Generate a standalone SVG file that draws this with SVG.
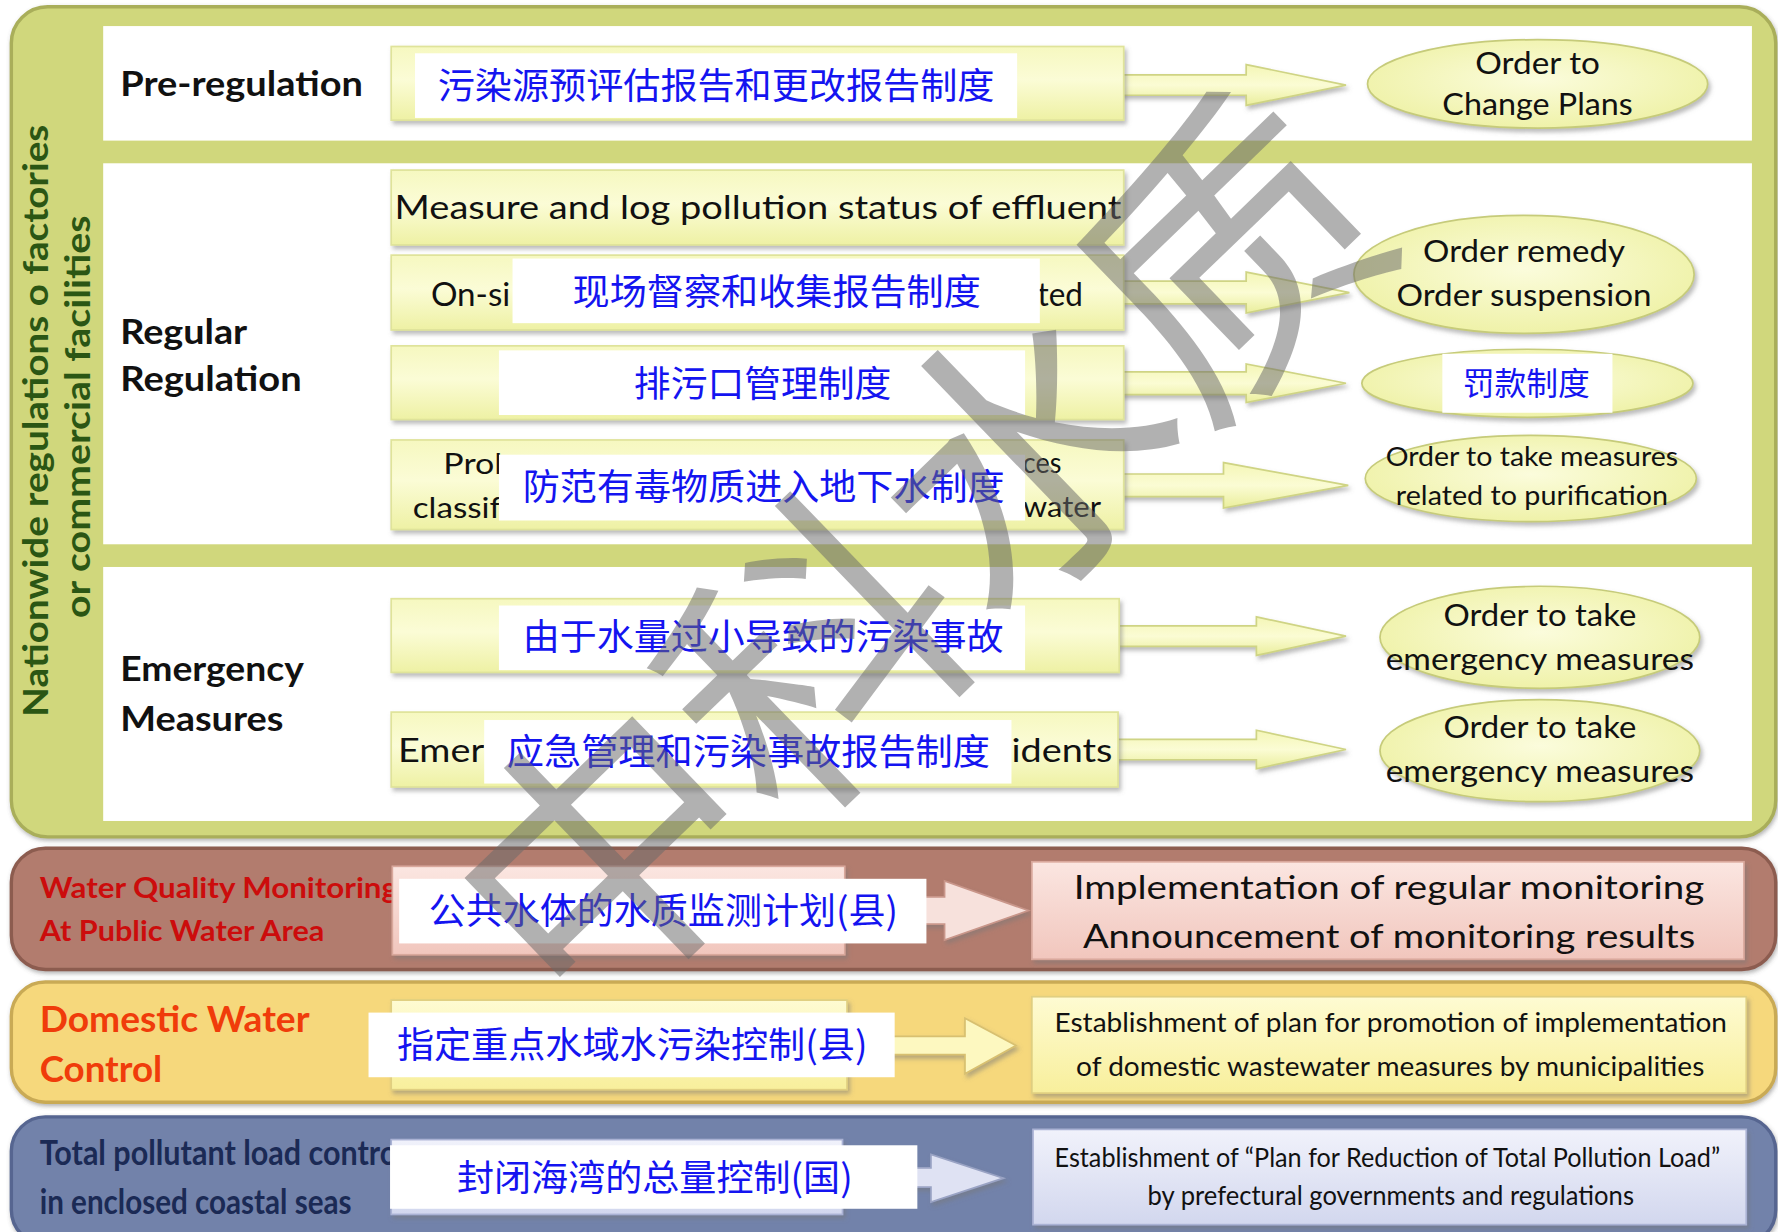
<svg xmlns="http://www.w3.org/2000/svg" width="1778" height="1232" viewBox="0 0 1778 1232">
<defs>
<filter id="sh" x="-5%" y="-20%" width="110%" height="150%"><feDropShadow dx="2" dy="3" stdDeviation="2" flood-color="#777" flood-opacity="0.5"/></filter>
<filter id="osh" x="-2%" y="-5%" width="104%" height="115%"><feDropShadow dx="1" dy="2" stdDeviation="2" flood-color="#555" flood-opacity="0.45"/></filter>
<linearGradient id="gy" x1="0" y1="0" x2="0" y2="1"><stop offset="0" stop-color="#f6f8c0"/><stop offset="0.45" stop-color="#fbfcd6"/><stop offset="1" stop-color="#eef1a4"/></linearGradient>
<linearGradient id="ga" x1="0" y1="0" x2="0" y2="1"><stop offset="0" stop-color="#f4f6b6"/><stop offset="0.5" stop-color="#fbfcd4"/><stop offset="1" stop-color="#eaee9c"/></linearGradient>
<radialGradient id="ge" cx="0.5" cy="0.45" r="0.6"><stop offset="0" stop-color="#fbfcdc"/><stop offset="1" stop-color="#eef1a4"/></radialGradient>
<linearGradient id="gp" x1="0" y1="0" x2="0" y2="1"><stop offset="0" stop-color="#fbe6e1"/><stop offset="1" stop-color="#f1c6bd"/></linearGradient>
<linearGradient id="gd" x1="0" y1="0" x2="0" y2="1"><stop offset="0" stop-color="#fefbd2"/><stop offset="1" stop-color="#f8ef9c"/></linearGradient>
<linearGradient id="gb" x1="0" y1="0" x2="0" y2="1"><stop offset="0" stop-color="#f1f2fb"/><stop offset="1" stop-color="#d2d7ee"/></linearGradient>
<style>
.lbl{font-family:Lato,"Liberation Sans",sans-serif;font-weight:700;font-size:30px;fill:#111}
.vt{font-family:Lato,"Liberation Sans",sans-serif;font-weight:700;font-size:30px;fill:#2b5614}
.tx{font-family:Lato,"Liberation Sans",sans-serif;font-size:29px;fill:#111}
.ts{font-family:Lato,"Liberation Sans",sans-serif;font-size:26px;fill:#111}
.te{font-family:Lato,"Liberation Sans",sans-serif;font-size:27px;fill:#111;text-anchor:middle}
.te2{font-family:Lato,"Liberation Sans",sans-serif;font-size:23px;fill:#111;text-anchor:middle}
.tc{font-family:Lato,"Liberation Sans",sans-serif;font-size:24px;fill:#111}
.cn{font-family:"Noto Sans CJK SC","Noto Sans",sans-serif;font-size:32.5px;fill:#1414f0}
.wb{fill:#fff}
.yb{fill:url(#gy);stroke:#dfe39a;stroke-width:1.5;filter:url(#sh)}
.el{fill:url(#ge);stroke:#c6cb7a;stroke-width:1.5;filter:url(#sh)}
.ar{fill:url(#ga);stroke:#cfd484;stroke-width:1.5;filter:url(#sh)}
.wm{font-family:"Noto Sans CJK SC",sans-serif;font-weight:400;font-size:255px;fill:#6a6a6a;fill-opacity:0.52}
</style>
</defs>
<rect x="0" y="0" width="1778" height="1232" fill="#ffffff"/>
<g transform="scale(1.13393)">
<g id="sections">
<rect x="10" y="6" width="1556" height="732" rx="32" fill="#d0d77c" stroke="#a9ae5a" stroke-width="3" filter="url(#osh)"/>
<rect x="91" y="23" width="1454" height="101" fill="#ffffff"/>
<rect x="91" y="144" width="1454" height="336" fill="#ffffff"/>
<rect x="91" y="500" width="1454" height="224" fill="#ffffff"/>
<text class="vt" transform="translate(42,632) rotate(-90)" textLength="522" lengthAdjust="spacingAndGlyphs">Nationwide regulations o factories</text>
<text class="vt" transform="translate(79,545) rotate(-90)" textLength="355" lengthAdjust="spacingAndGlyphs">or commercial facilities</text>
<text class="lbl" x="106" y="85" textLength="214" lengthAdjust="spacingAndGlyphs">Pre-regulation</text>
<text class="lbl" x="106" y="303" textLength="112" lengthAdjust="spacingAndGlyphs">Regular</text>
<text class="lbl" x="106" y="345" textLength="160" lengthAdjust="spacingAndGlyphs">Regulation</text>
<text class="lbl" x="106" y="601" textLength="162" lengthAdjust="spacingAndGlyphs">Emergency</text>
<text class="lbl" x="106" y="645" textLength="144" lengthAdjust="spacingAndGlyphs">Measures</text>
<rect x="10" y="748" width="1556" height="107" rx="30" fill="#b27c6e" stroke="#8c5c50" stroke-width="3" filter="url(#osh)"/>
<text x="35" y="792" font-family="Lato,'Liberation Sans',sans-serif" font-weight="700" font-size="25" fill="#cc0c0c" textLength="316" lengthAdjust="spacingAndGlyphs">Water Quality Monitoring</text>
<text x="35" y="830" font-family="Lato,'Liberation Sans',sans-serif" font-weight="700" font-size="25" fill="#cc0c0c" textLength="251" lengthAdjust="spacingAndGlyphs">At Public Water Area</text>
<rect x="10" y="866" width="1556" height="106" rx="30" fill="#f6d87c" stroke="#c9aa55" stroke-width="3" filter="url(#osh)"/>
<text x="35" y="910" font-family="Lato,'Liberation Sans',sans-serif" font-weight="700" font-size="32" fill="#f03c0a" textLength="238" lengthAdjust="spacingAndGlyphs">Domestic Water</text>
<text x="35" y="954" font-family="Lato,'Liberation Sans',sans-serif" font-weight="700" font-size="32" fill="#f03c0a" textLength="108" lengthAdjust="spacingAndGlyphs">Control</text>
<rect x="10" y="985" width="1556" height="112" rx="30" fill="#7282aa" stroke="#566590" stroke-width="3" filter="url(#osh)"/>
<text x="35" y="1027" font-family="Lato,'Liberation Sans',sans-serif" font-weight="700" font-size="30" fill="#1b2a55" textLength="322" lengthAdjust="spacingAndGlyphs">Total pollutant load control</text>
<text x="35" y="1071" font-family="Lato,'Liberation Sans',sans-serif" font-weight="700" font-size="30" fill="#1b2a55" textLength="275" lengthAdjust="spacingAndGlyphs">in enclosed coastal seas</text>
</g>
<g id="connectors">
<polygon class="ar" points="985,66 1099,66 1099,57 1187,75 1099,93 1099,84 985,84"/>
<polygon class="ar" points="985,248 1099,248 1099,240 1190,258 1099,276 1099,268 985,268"/>
<polygon class="ar" points="985,328 1099,328 1099,321 1187,338 1099,355 1099,348 985,348"/>
<polygon class="ar" points="985,418 1079,418 1079,408 1189,428 1079,448 1079,438 985,438"/>
<polygon class="ar" points="981,552 1108,552 1108,544 1187,561 1108,578 1108,570 981,570"/>
<polygon class="ar" points="980,652 1108,652 1108,644 1187,661 1108,678 1108,670 980,670"/>
<polygon points="740,791 833,791 833,777 907,803 833,829 833,815 740,815" fill="#f7e1dc" stroke="#c9968a" stroke-width="1.5" filter="url(#sh)"/>
<polygon points="742,914 851,914 851,898 896,922 851,947 851,930 742,930" fill="#fdf8c0" stroke="#d8c070" stroke-width="1.5" filter="url(#sh)"/>
<polygon points="738,1030 821,1030 821,1018 885,1039 821,1060 821,1047 738,1047" fill="#dfe2f3" stroke="#9aa3c4" stroke-width="1.5" filter="url(#sh)"/>
</g>
<g id="n-prereg">
<rect class="yb" x="345" y="41" width="646" height="65"/>
<rect class="wb" x="366" y="47" width="531" height="57"/>
<text class="cn" x="386" y="87" textLength="491" lengthAdjust="spacingAndGlyphs">污染源预评估报告和更改报告制度</text>
</g>
<g id="n-measure">
<rect class="yb" x="345" y="150" width="646" height="66"/>
<text class="tx" x="348" y="193" textLength="641" lengthAdjust="spacingAndGlyphs">Measure and log pollution status of effluent</text>
</g>
<g id="n-onsite">
<rect class="yb" x="345" y="225" width="646" height="66"/>
<text class="tx" x="380" y="270" textLength="70" lengthAdjust="spacingAndGlyphs">On-si</text>
<text class="tx" x="915" y="270" textLength="40" lengthAdjust="spacingAndGlyphs">ted</text>
<rect class="wb" x="452" y="228" width="465" height="57"/>
<text class="cn" x="505" y="269" textLength="360" lengthAdjust="spacingAndGlyphs">现场督察和收集报告制度</text>
</g>
<g id="n-outlet">
<rect class="yb" x="345" y="305" width="646" height="65"/>
<rect class="wb" x="440" y="309" width="464" height="57"/>
<text class="cn" x="559" y="350" textLength="227" lengthAdjust="spacingAndGlyphs">排污口管理制度</text>
</g>
<g id="n-ground">
<rect class="yb" x="345" y="388" width="646" height="79"/>
<text class="ts" x="391" y="418" textLength="52" lengthAdjust="spacingAndGlyphs">Prol</text>
<text class="ts" x="364" y="457" textLength="78" lengthAdjust="spacingAndGlyphs">classif</text>
<text class="ts" x="902" y="417" textLength="34" lengthAdjust="spacingAndGlyphs">ces</text>
<text class="ts" x="902" y="456" textLength="69" lengthAdjust="spacingAndGlyphs">water</text>
<rect class="wb" x="440" y="401" width="464" height="58"/>
<text class="cn" x="461" y="441" textLength="425" lengthAdjust="spacingAndGlyphs">防范有毒物质进入地下水制度</text>
</g>
<g id="n-e1">
<rect class="yb" x="345" y="528" width="642" height="65"/>
<rect class="wb" x="440" y="534" width="464" height="57"/>
<text class="cn" x="461" y="573" textLength="424" lengthAdjust="spacingAndGlyphs">由于水量过小导致的污染事故</text>
</g>
<g id="n-e2">
<rect class="yb" x="345" y="628" width="641" height="66"/>
<text class="tx" x="351" y="672" textLength="76" lengthAdjust="spacingAndGlyphs">Emer</text>
<text class="tx" x="892" y="672" textLength="89" lengthAdjust="spacingAndGlyphs">idents</text>
<rect class="wb" x="427" y="635" width="465" height="56"/>
<text class="cn" x="447" y="675" textLength="426" lengthAdjust="spacingAndGlyphs">应急管理和污染事故报告制度</text>
</g>
<g id="o-change">
<ellipse class="el" cx="1356" cy="74" rx="150" ry="39"/>
<text class="te" x="1356" y="65" textLength="110" lengthAdjust="spacingAndGlyphs">Order to</text>
<text class="te" x="1356" y="101" textLength="168" lengthAdjust="spacingAndGlyphs">Change Plans</text>
</g>
<g id="o-remedy">
<ellipse class="el" cx="1344" cy="242" rx="150" ry="52"/>
<text class="te" x="1344" y="231" textLength="178" lengthAdjust="spacingAndGlyphs">Order remedy</text>
<text class="te" x="1344" y="270" textLength="225" lengthAdjust="spacingAndGlyphs">Order suspension</text>
</g>
<g id="o-fine">
<ellipse class="el" cx="1347" cy="338" rx="146" ry="30"/>
<rect class="wb" x="1272" y="312" width="150" height="52"/>
<text x="1346" y="348" text-anchor="middle" font-family="'Noto Sans CJK SC',sans-serif" font-size="28" fill="#1414f0" textLength="112" lengthAdjust="spacingAndGlyphs">罚款制度</text>
</g>
<g id="o-purify">
<ellipse class="el" cx="1350" cy="422" rx="146" ry="38"/>
<text class="te2" x="1351" y="411" textLength="258" lengthAdjust="spacingAndGlyphs">Order to take measures</text>
<text class="te2" x="1351" y="445" textLength="240" lengthAdjust="spacingAndGlyphs">related to purification</text>
</g>
<g id="o-em1">
<ellipse class="el" cx="1358" cy="562" rx="141" ry="45"/>
<text class="te" x="1358" y="552" textLength="170" lengthAdjust="spacingAndGlyphs">Order to take</text>
<text class="te" x="1358" y="591" textLength="272" lengthAdjust="spacingAndGlyphs">emergency measures</text>
</g>
<g id="o-em2">
<ellipse class="el" cx="1358" cy="662" rx="141" ry="45"/>
<text class="te" x="1358" y="651" textLength="170" lengthAdjust="spacingAndGlyphs">Order to take</text>
<text class="te" x="1358" y="690" textLength="272" lengthAdjust="spacingAndGlyphs">emergency measures</text>
</g>
<g id="n-monitor">
<rect x="346" y="764" width="399" height="78" fill="url(#gp)" stroke="#d9a89c" stroke-width="1.5" filter="url(#sh)"/>
<rect class="wb" x="352" y="775" width="465" height="57"/>
<text class="cn" x="378" y="815" textLength="414" lengthAdjust="spacingAndGlyphs">公共水体的水质监测计划(县)</text>
</g>
<g id="r-monitor">
<rect x="910" y="760" width="628" height="86" fill="url(#gp)" stroke="#d9a89c" stroke-width="1.5" filter="url(#sh)"/>
<text class="tx" x="947" y="793" font-size="30" textLength="556" lengthAdjust="spacingAndGlyphs">Implementation of regular monitoring</text>
<text class="tx" x="955" y="836" font-size="30" textLength="540" lengthAdjust="spacingAndGlyphs">Announcement of monitoring results</text>
</g>
<g id="n-domestic">
<rect x="345" y="882" width="402" height="79" fill="url(#gd)" stroke="#e0cf80" stroke-width="1.5" filter="url(#sh)"/>
<rect class="wb" x="325" y="893" width="464" height="57"/>
<text class="cn" x="350" y="933" textLength="415" lengthAdjust="spacingAndGlyphs">指定重点水域水污染控制(县)</text>
</g>
<g id="r-domestic">
<rect x="910" y="879" width="630" height="85" fill="url(#gd)" stroke="#e0cf80" stroke-width="1.5" filter="url(#sh)"/>
<text class="tc" x="930" y="910" font-size="25" textLength="593" lengthAdjust="spacingAndGlyphs">Establishment of plan for promotion of implementation</text>
<text class="tc" x="949" y="949" font-size="25" textLength="554" lengthAdjust="spacingAndGlyphs">of domestic wastewater measures by municipalities</text>
</g>
<g id="n-coastal">
<rect x="345" y="1005" width="398" height="66" fill="url(#gb)" stroke="#aab2d4" stroke-width="1.5" filter="url(#sh)"/>
<rect class="wb" x="344" y="1010" width="465" height="56"/>
<text class="cn" x="403" y="1050" textLength="349" lengthAdjust="spacingAndGlyphs">封闭海湾的总量控制(国)</text>
</g>
<g id="r-coastal">
<rect x="911" y="996" width="629" height="84" fill="url(#gb)" stroke="#aab2d4" stroke-width="1.5" filter="url(#sh)"/>
<text class="tc" x="930" y="1029" font-size="22" textLength="587" lengthAdjust="spacingAndGlyphs">Establishment of “Plan for Reduction of Total Pollution Load”</text>
<text class="tc" x="1012" y="1063" font-size="22" textLength="429" lengthAdjust="spacingAndGlyphs">by prefectural governments and regulations</text>
</g>
<g id="watermark">
<text class="wm" transform="translate(810,490) rotate(-44)" x="0" y="95" text-anchor="middle">中科水质</text>
</g>
</g>
</svg>
